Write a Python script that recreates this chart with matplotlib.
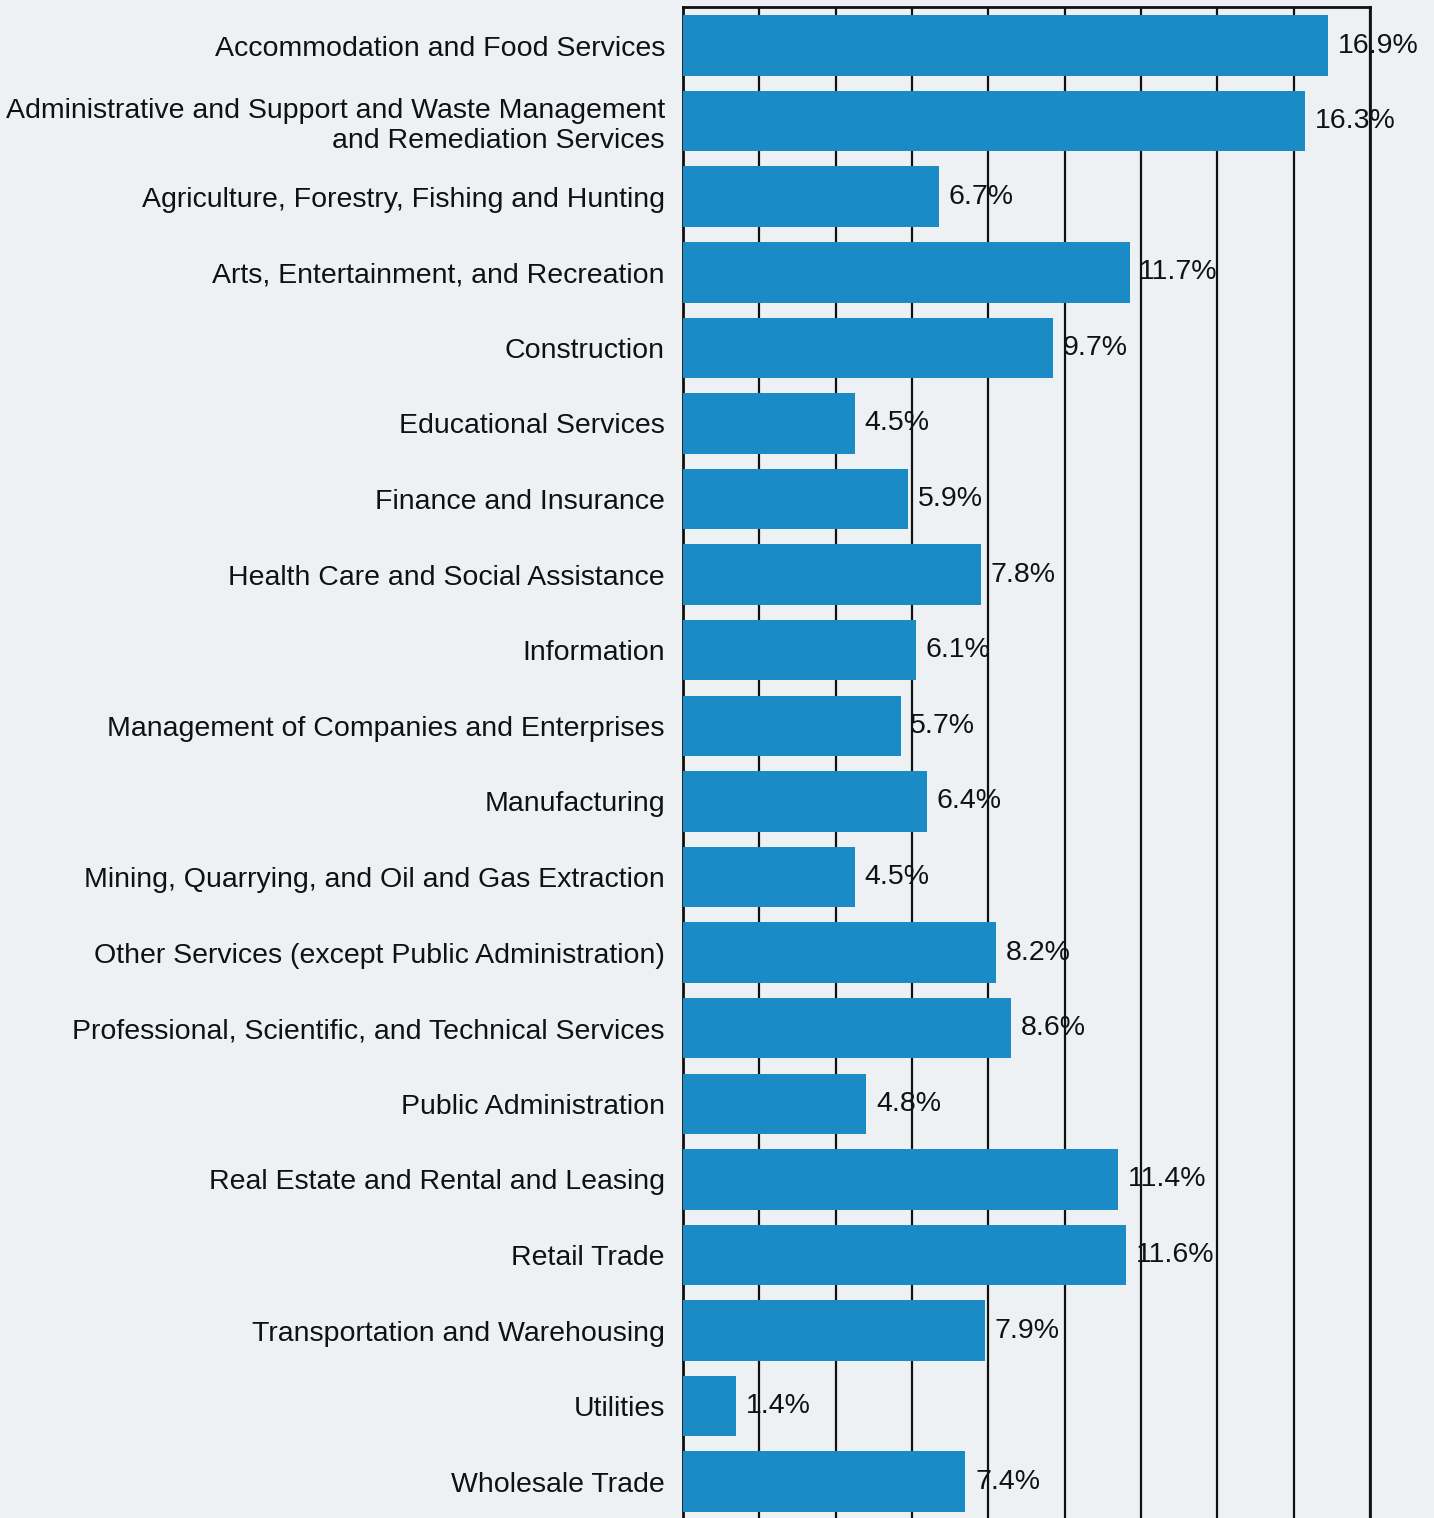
import numpy as np
import matplotlib.pyplot as plt

plt.rcParams['font.family'] = ['Liberation Sans', 'DejaVu Sans']

industries = [
    "Accommodation and Food Services",
    "Administrative and Support and Waste Management\nand Remediation Services",
    "Agriculture, Forestry, Fishing and Hunting",
    "Arts, Entertainment, and Recreation",
    "Construction",
    "Educational Services",
    "Finance and Insurance",
    "Health Care and Social Assistance",
    "Information",
    "Management of Companies and Enterprises",
    "Manufacturing",
    "Mining, Quarrying, and Oil and Gas Extraction",
    "Other Services (except Public Administration)",
    "Professional, Scientific, and Technical Services",
    "Public Administration",
    "Real Estate and Rental and Leasing",
    "Retail Trade",
    "Transportation and Warehousing",
    "Utilities",
    "Wholesale Trade",
]
shares = [16.9, 16.3, 6.7, 11.7, 9.7, 4.5, 5.9, 7.8, 6.1, 5.7,
          6.4, 4.5, 8.2, 8.6, 4.8, 11.4, 11.6, 7.9, 1.4, 7.4]

bg = '#eef1f4'
fig = plt.figure(figsize=(14.34, 15.18), dpi=100, facecolor=bg)
ax = fig.add_axes([683/1434, 0.0, 687/1434, 1 - 7/1518])
ax.set_facecolor(bg)

y = np.arange(len(industries))
ax.barh(y, shares, height=0.8, color='#1a8bc4', zorder=3)

for yi, v in zip(y, shares):
    ax.annotate(f"{v}%", (v, yi), xytext=(7, 0), textcoords='offset points',
                va='center', ha='left', fontsize=20.5, color='#111111', zorder=5)

ax.set_xlim(0, 18)
ax.set_ylim(19.48, -0.51)
ax.set_xticks(np.arange(0, 19, 2))
ax.set_xticklabels([])
ax.tick_params(axis='x', length=0)
ax.grid(axis='x', color='#111111', linewidth=1.6, zorder=1)

ax.set_yticks(y)
ax.set_yticklabels(industries, fontsize=20.5, color='#111111', ha='right')
ax.tick_params(axis='y', length=0, pad=13)

for side in ['left', 'top', 'right']:
    ax.spines[side].set_color('#111111')
    ax.spines[side].set_linewidth(2)
ax.spines['bottom'].set_visible(False)

fig.savefig('out.png', dpi=100, facecolor=bg)
